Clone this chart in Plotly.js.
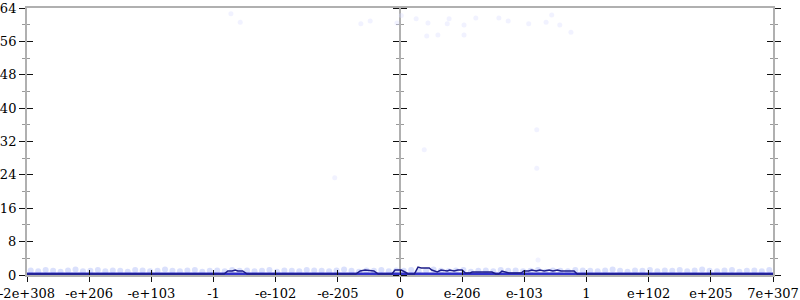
<!DOCTYPE html>
<html>
<head>
<meta charset="utf-8">
<script src="https://cdn.plot.ly/plotly-3.0.1.min.js"></script>
<style>html,body{margin:0;padding:0;background:#fff;}#chart{width:800px;height:300px;}</style>
</head>
<body>
<div id="chart"></div>
<script>
// x positions are in "tick units": each tick label is one unit apart
const tickPositions = [-6,-5,-4,-3,-2,-1,0,1,2,3,4,5,6];
const tickLabels = ["-2e+308","-e+206","-e+103","-1","-e-102","-e-205","0","e-206","e-103","1","e+102","e+205","7e+307"];
const yTicks = [0,8,16,24,32,40,48,56,64];
const yMinorTicks = [4,12,20,28,36,44,52,60];

// dense band of samples near the bottom
const bandX = [-5.94,-5.82,-5.70,-5.58,-5.46,-5.34,-5.22,-5.10,-4.98,-4.86,-4.74,-4.62,-4.50,-4.38,-4.26,-4.14,-4.02,-3.90,-3.78,-3.66,-3.54,-3.42,-3.30,-3.18,-3.06,-2.94,-2.82,-2.70,-2.58,-2.46,-2.34,-2.22,-2.10,-1.98,-1.86,-1.74,-1.62,-1.50,-1.38,-1.26,-1.14,-1.02,-0.90,-0.78,-0.66,-0.54,-0.42,-0.30,-0.18,-0.06,0.06,0.18,0.30,0.42,0.54,0.66,0.78,0.90,1.02,1.14,1.26,1.38,1.50,1.62,1.74,1.86,1.98,2.10,2.22,2.34,2.46,2.58,2.70,2.82,2.94,3.06,3.18,3.30,3.42,3.54,3.66,3.78,3.90,4.02,4.14,4.26,4.38,4.50,4.62,4.74,4.86,4.98,5.10,5.22,5.34,5.46,5.58,5.70,5.82,5.94];
const bandY = [1.1,0.9,1.2,1.0,0.8,1.1,1.3,0.9,1.0,1.2,0.9,1.1,1.0,0.8,1.2,1.1,0.9,1.0,1.3,1.0,0.9,1.1,1.2,0.8,1.0,1.1,0.9,1.2,1.0,1.1,0.9,1.0,1.2,0.8,1.1,1.0,0.9,1.2,1.1,1.0,0.9,1.1,1.3,1.0,0.8,1.1,1.0,1.2,0.9,1.1,1.0,1.2,0.9,1.1,1.3,1.0,0.9,1.1,1.2,0.8,1.0,1.1,0.9,1.2,1.0,1.1,0.9,1.0,1.2,0.8,1.1,1.0,0.9,1.2,1.1,1.0,0.9,1.1,1.3,1.0,0.8,1.1,1.0,1.2,0.9,1.1,1.0,1.2,0.9,1.1,1.3,1.0,0.9,1.1,1.2,0.8,1.0,1.1,0.9,1.2];

// sparse outliers higher up
const outX = [0.02,-0.05,0.26,0.45,0.43,0.61,0.79,0.76,1.03,1.03,1.22,1.59,1.74,2.07,2.35,2.44,2.57,2.75,-2.72,-2.57,-0.63,-0.48,2.20,2.20,2.22,-1.05,0.39];
const outY = [62.2,60.4,61.4,60.4,57.3,57.5,61.4,60.2,59.9,57.5,61.6,61.6,60.9,60.2,60.6,62.3,59.9,58.2,62.6,60.6,60.2,60.9,34.8,25.6,3.6,23.3,30.0];

// summary line
const lineX = [-6.0,-2.83,-2.77,-2.70,-2.65,-2.61,-2.53,-2.46,-0.71,-0.64,-0.56,-0.48,-0.42,-0.35,-0.13,-0.08,0.02,0.08,0.13,0.23,0.29,0.34,0.47,0.51,0.60,0.66,0.76,0.80,0.87,0.93,1.00,1.05,1.13,1.16,1.48,1.54,1.59,1.64,1.69,1.75,1.95,1.99,2.07,2.12,2.19,2.25,2.32,2.40,2.46,2.53,2.59,2.80,2.85,6.0];
const lineY = [0.24,0.24,0.96,0.96,1.2,0.96,0.96,0.24,0.24,0.96,1.2,0.96,0.96,0.24,0.24,1.2,1.2,0.72,0.24,0.24,1.9,1.7,1.7,1.2,0.72,1.2,0.96,1.2,0.96,1.2,1.2,0.48,0.48,0.72,0.72,0.24,0.24,0.96,0.72,0.48,0.48,0.96,0.96,1.2,0.96,1.2,0.96,1.2,0.96,1.2,0.96,0.96,0.24,0.24];

const baseX = [-6, 6];
const baseY = [0.22, 0.22];

const data = [
  {x: outX, y: outY, type:'scatter', mode:'markers', hoverinfo:'skip',
   marker:{size:5, color:'rgba(215,218,255,0.35)'}},
  {x: bandX, y: bandY, type:'scatter', mode:'markers', hoverinfo:'skip',
   marker:{size:6, color:'rgba(150,165,245,0.35)'}},
  {x: baseX, y: baseY, type:'scatter', mode:'lines', hoverinfo:'skip',
   line:{color:'#3030c8', width:3}},
  {x: lineX, y: lineY, type:'scatter', mode:'lines', hoverinfo:'skip',
   line:{color:'#1e1e88', width:1.5}}
];

const serif = 'DejaVu Serif';
const yCommon = {range:[0,64], tickvals:yTicks, showgrid:false, zeroline:false,
  tickcolor:'#111', tickwidth:1, ticklen:6, layer:'below traces',
  minor:{tickvals:yMinorTicks, ticks:'outside', ticklen:3, tickcolor:'#999', tickwidth:1}};

const layout = {
  width:800, height:300,
  margin:{l:27, r:27, t:8, b:25, pad:0},
  paper_bgcolor:'#fff', plot_bgcolor:'#fff',
  font:{family:serif, size:13, color:'#000'},
  showlegend:false,
  xaxis:{range:[-6,6], tickvals:tickPositions, ticktext:tickLabels, ticks:'outside', ticklen:5,
    tickcolor:'#111', tickwidth:1, showline:true, linecolor:'#b0b0b0', linewidth:2, mirror:true,
    showgrid:false, zeroline:false, layer:'below traces', ticklabeloverflow:'allow',
    tickfont:{family:serif, size:13, color:'#000'}},
  xaxis2:{range:[-6,6], overlaying:'x', anchor:'y', side:'bottom', tickvals:tickPositions, ticks:'inside', ticklen:5,
    tickcolor:'#111', tickwidth:1, showticklabels:false, showline:false, showgrid:false, zeroline:false},
  yaxis:Object.assign({}, yCommon, {ticks:'outside', showline:true, linecolor:'#b0b0b0', linewidth:2, mirror:'ticks',
    tickfont:{family:serif, size:13, color:'#000'}}),
  yaxis2:Object.assign({}, yCommon, {overlaying:'y', anchor:'x', side:'left', ticks:'inside', mirror:'ticks', showline:false, showticklabels:false,
    minor:{tickvals:yMinorTicks, ticks:'inside', ticklen:3, tickcolor:'#999', tickwidth:1}}),
  yaxis3:Object.assign({}, yCommon, {overlaying:'y', anchor:'free', position:0.5, side:'left', ticks:'outside', showline:true, linecolor:'#b0b0b0', linewidth:2, showticklabels:false}),
  yaxis4:Object.assign({}, yCommon, {overlaying:'y', anchor:'free', position:0.5, side:'right', ticks:'outside', showline:false, showticklabels:false})
};

// invisible anchor traces that activate the overlay axes
data.push({x:[0], y:[0], xaxis:'x2', yaxis:'y2', mode:'markers', marker:{opacity:0}, hoverinfo:'skip'});
data.push({x:[0], y:[0], yaxis:'y3', mode:'markers', marker:{opacity:0}, hoverinfo:'skip'});
data.push({x:[0], y:[0], yaxis:'y4', mode:'markers', marker:{opacity:0}, hoverinfo:'skip'});

Plotly.newPlot('chart', data, layout, {staticPlot:true, displayModeBar:false});
</script>
</body>
</html>
